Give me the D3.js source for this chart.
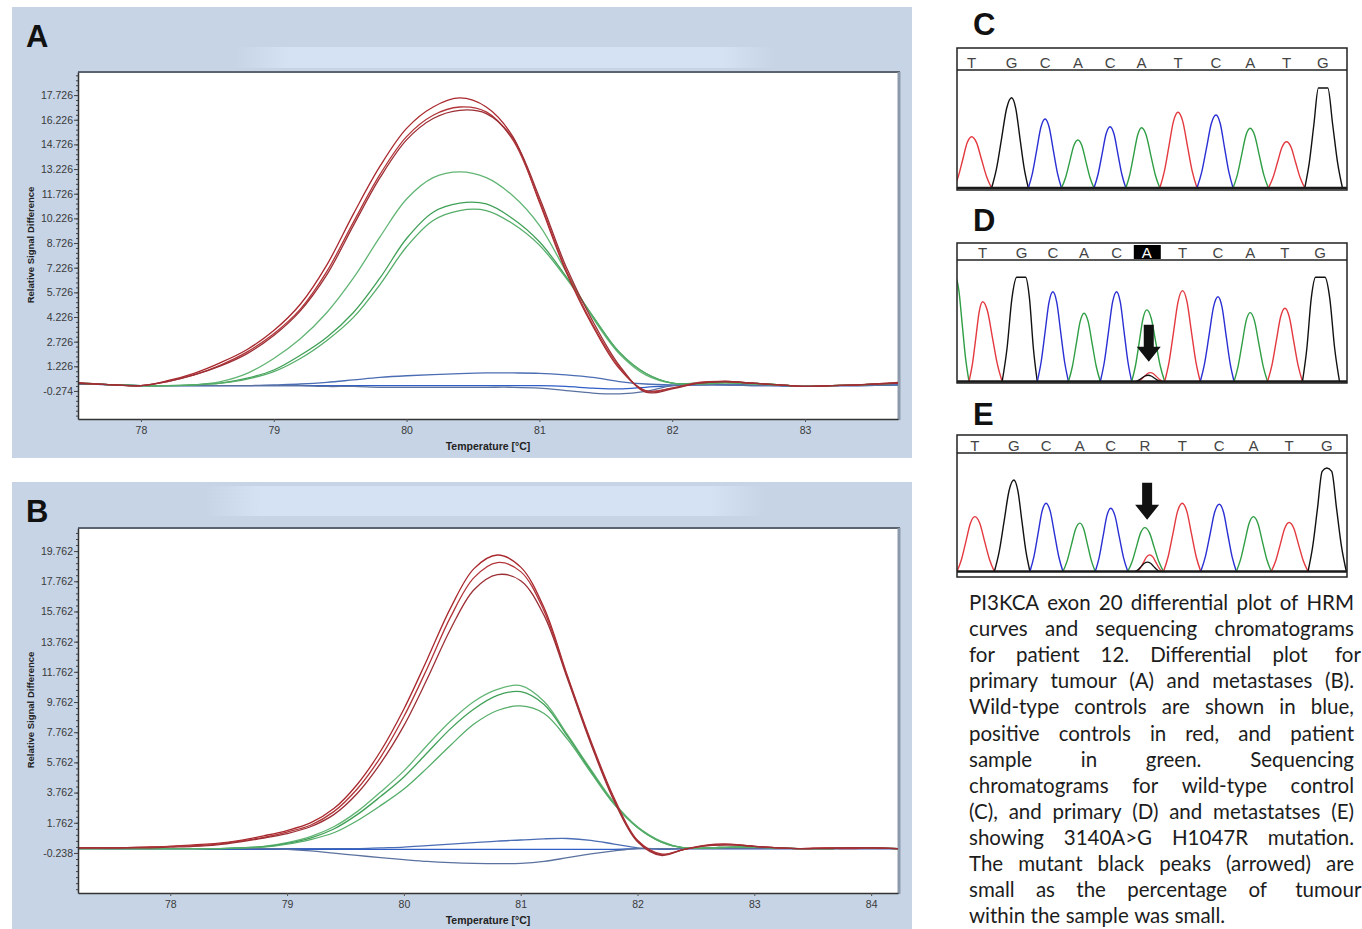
<!DOCTYPE html>
<html lang="en">
<head>
<meta charset="UTF-8">
<title>PI3KCA exon 20 - HRM differential plots and chromatograms</title>
<script src="https://d3js.org/d3.v7.min.js"></script>
<style>
  body { margin: 0; background: #fff; }
  svg { display: block; }
</style>
</head>
<body>
<svg id="fig" width="1362" height="929"></svg>
<script>
// ---------- HRM differential plot, primary tumour (A) ----------
const tempA = [77.5, 77.8, 78.0, 78.2, 78.4, 78.6, 78.8, 79.0, 79.2, 79.4, 79.6, 79.8, 80.0, 80.2, 80.4, 80.6,
  80.8, 81.0, 81.2, 81.4, 81.6, 81.8, 82.0, 82.2, 82.4, 82.6, 82.8, 83.0, 83.2, 83.4, 83.7];
const redA = [
  [0.25, 0.1, 0.05, 0.35, 0.8, 1.45, 2.25, 3.4, 5.0, 7.4, 10.5, 13.4, 15.7, 17.0, 17.55, 17.0, 15.2, 11.2, 7.0, 3.7, 1.1, -0.25, -0.1, 0.2, 0.3, 0.2, 0.1, 0.0, 0.05, 0.1, 0.25],
  [0.2, 0.1, 0.05, 0.3, 0.7, 1.3, 2.1, 3.2, 4.7, 7.0, 10.0, 12.9, 15.2, 16.5, 17.0, 16.7, 15.0, 11.3, 7.1, 3.8, 1.2, -0.3, -0.1, 0.25, 0.3, 0.2, 0.1, 0.0, 0.05, 0.1, 0.2],
  [0.2, 0.1, 0.05, 0.3, 0.7, 1.25, 2.0, 3.1, 4.6, 6.8, 9.8, 12.7, 15.0, 16.3, 16.8, 16.6, 15.1, 11.5, 7.3, 4.0, 1.3, -0.35, -0.15, 0.2, 0.3, 0.2, 0.1, 0.0, 0.05, 0.1, 0.2]
];
const greenA = [
  [0.25, 0.1, 0.05, 0.05, 0.1, 0.3, 0.8, 1.7, 2.9, 4.5, 6.6, 9.1, 11.4, 12.7, 13.05, 12.7, 11.6, 9.8, 7.0, 4.2, 2.0, 0.7, 0.2, 0.2, 0.25, 0.2, 0.1, 0.0, 0.05, 0.1, 0.2],
  [0.2, 0.1, 0.05, 0.05, 0.1, 0.2, 0.5, 1.0, 1.9, 3.0, 4.5, 6.6, 9.0, 10.6, 11.15, 11.1, 10.2, 8.8, 6.7, 4.3, 2.1, 0.8, 0.2, 0.2, 0.25, 0.2, 0.1, 0.0, 0.05, 0.1, 0.2],
  [0.2, 0.1, 0.05, 0.05, 0.1, 0.2, 0.45, 0.9, 1.7, 2.8, 4.2, 6.2, 8.5, 10.1, 10.7, 10.7, 9.9, 8.6, 6.6, 4.3, 2.1, 0.8, 0.2, 0.15, 0.2, 0.15, 0.1, 0.0, 0.05, 0.1, 0.2]
];
const blueA = [
  [0.2, 0.1, 0.05, 0.05, 0.05, 0.05, 0.05, 0.1, 0.15, 0.25, 0.4, 0.55, 0.65, 0.72, 0.78, 0.82, 0.82, 0.8, 0.7, 0.55, 0.3, 0.15, 0.1, 0.1, 0.1, 0.1, 0.05, 0.0, 0.05, 0.05, 0.1],
  [0.15, 0.1, 0.05, 0.05, 0.05, 0.05, 0.05, 0.05, 0.05, 0.05, 0.05, 0.05, 0.05, 0.05, 0.05, 0.05, 0.05, 0.05, 0.0, -0.1, -0.15, -0.05, 0.05, 0.1, 0.1, 0.05, 0.05, 0.0, 0.05, 0.05, 0.1],
  [0.15, 0.1, 0.05, 0.05, 0.05, 0.05, 0.05, 0.05, 0.05, 0.0, 0.0, -0.05, -0.05, -0.05, -0.05, -0.05, -0.05, -0.1, -0.25, -0.4, -0.45, -0.3, 0.05, 0.1, 0.1, 0.05, 0.05, 0.0, 0.05, 0.05, 0.1]
];
const xTicksA = [78, 79, 80, 81, 82, 83];
const yTicksA = [-0.274, 1.226, 2.726, 4.226, 5.726, 7.226, 8.726, 10.226, 11.726, 13.226, 14.726, 16.226, 17.726];

// ---------- HRM differential plot, metastases (B) ----------
const tempB = [77.2, 77.5, 77.8, 78.0, 78.2, 78.4, 78.6, 78.8, 79.0, 79.2, 79.4, 79.6, 79.8, 80.0, 80.2, 80.4, 80.6,
  80.8, 81.0, 81.2, 81.4, 81.6, 81.8, 82.0, 82.2, 82.4, 82.6, 82.8, 83.0, 83.2, 83.4, 83.6, 83.8, 84.0, 84.25];
const redB = [
  [0.1, 0.1, 0.15, 0.2, 0.3, 0.4, 0.6, 0.9, 1.25, 1.75, 2.7, 4.3, 6.5, 9.3, 12.6, 16.0, 18.6, 19.5, 18.7, 16.0, 11.5, 7.2, 3.4, 0.6, -0.3, 0.0, 0.3, 0.35, 0.2, 0.1, 0.05, 0.1, 0.1, 0.1, 0.05],
  [0.1, 0.1, 0.15, 0.2, 0.25, 0.35, 0.55, 0.8, 1.15, 1.6, 2.5, 4.0, 6.1, 8.8, 12.0, 15.4, 18.0, 19.0, 18.4, 15.8, 11.4, 7.1, 3.3, 0.55, -0.35, 0.0, 0.25, 0.3, 0.2, 0.1, 0.05, 0.1, 0.05, 0.1, 0.05],
  [0.1, 0.1, 0.1, 0.15, 0.2, 0.3, 0.5, 0.75, 1.05, 1.5, 2.3, 3.7, 5.7, 8.2, 11.3, 14.6, 17.2, 18.2, 17.8, 15.5, 11.3, 7.0, 3.2, 0.5, -0.4, 0.0, 0.25, 0.3, 0.2, 0.1, 0.05, 0.05, 0.1, 0.1, 0.05]
];
const greenB = [
  [0.05, 0.05, 0.05, 0.05, 0.05, 0.05, 0.1, 0.2, 0.45, 0.85, 1.5, 2.5, 3.8, 5.2, 6.9, 8.5, 9.8, 10.6, 10.85, 9.8, 7.6, 5.3, 3.1, 1.5, 0.55, 0.1, 0.1, 0.15, 0.15, 0.1, 0.05, 0.05, 0.1, 0.1, 0.05],
  [0.05, 0.05, 0.05, 0.05, 0.05, 0.05, 0.1, 0.18, 0.4, 0.75, 1.35, 2.3, 3.5, 4.8, 6.4, 8.0, 9.3, 10.2, 10.45, 9.6, 7.5, 5.2, 3.0, 1.45, 0.5, 0.1, 0.1, 0.15, 0.15, 0.1, 0.05, 0.05, 0.1, 0.1, 0.05],
  [0.05, 0.05, 0.05, 0.05, 0.05, 0.05, 0.1, 0.15, 0.35, 0.65, 1.1, 1.9, 2.9, 4.0, 5.4, 6.9, 8.3, 9.2, 9.5, 9.0, 7.3, 5.1, 3.0, 1.45, 0.5, 0.1, 0.1, 0.15, 0.15, 0.1, 0.05, 0.05, 0.1, 0.1, 0.05]
];
const blueB = [
  [0.05, 0.05, 0.05, 0.05, 0.05, 0.05, 0.05, 0.05, 0.05, 0.05, 0.05, 0.05, 0.1, 0.15, 0.25, 0.35, 0.45, 0.55, 0.62, 0.7, 0.72, 0.6, 0.35, 0.1, 0.0, 0.05, 0.05, 0.05, 0.05, 0.05, 0.05, 0.05, 0.05, 0.05, 0.05],
  [0.1, 0.05, 0.05, 0.05, 0.05, 0.0, 0.0, 0.0, 0.0, 0.0, 0.0, 0.0, 0.0, 0.0, 0.0, 0.0, 0.0, 0.0, 0.0, 0.0, 0.0, 0.0, 0.0, 0.05, 0.05, 0.05, 0.05, 0.05, 0.05, 0.05, 0.05, 0.05, 0.05, 0.05, 0.05],
  [0.05, 0.05, 0.05, 0.05, 0.05, 0.05, 0.05, 0.05, 0.0, -0.1, -0.25, -0.4, -0.55, -0.68, -0.8, -0.88, -0.93, -0.95, -0.93, -0.8, -0.55, -0.3, -0.1, 0.05, 0.05, 0.05, 0.05, 0.05, 0.05, 0.05, 0.05, 0.05, 0.05, 0.05, 0.05]
];
const xTicksB = [78, 79, 80, 81, 82, 83, 84];
const yTicksB = [-0.238, 1.762, 3.762, 5.762, 7.762, 9.762, 11.762, 13.762, 15.762, 17.762, 19.762];

// ---------- sequencing chromatograms (scan position, signal height) ----------
// wild-type control (C)
const basesC = ["T", "G", "C", "A", "C", "A", "T", "C", "A", "T", "G"];
const callsC = ["T", "G", "C", "A", "C", "A", "T", "C", "A", "T", "G"];
const posC = [0.45, 1.68, 2.71, 3.72, 4.71, 5.68, 6.80, 7.97, 9.02, 10.14, 11.26];
const htC = [513, 903, 690, 480, 613, 603, 757, 730, 597, 463, 1150];
// primary tumour (D) - first peak is cut off by the frame
const basesD = ["A", "T", "G", "C", "A", "C", "A", "T", "C", "A", "T", "G"];
const callsD = ["", "T", "G", "C", "A", "C", "A", "T", "C", "A", "T", "G"];
const posD = [-0.05, 0.79, 1.99, 2.95, 3.91, 4.91, 5.84, 6.94, 8.03, 9.02, 10.09, 11.17];
const htD = [1000, 766, 1450, 862, 655, 862, 687, 872, 814, 661, 703, 1450];
const mutBasesD = ["T", "G"];
const mutPosD = [5.95, 5.88];
const mutHtD = [85, 60];
// metastases (E)
const basesE = ["T", "G", "C", "A", "C", "A", "T", "C", "A", "T", "G"];
const callsE = ["T", "G", "C", "A", "C", "R", "T", "C", "A", "T", "G"];
const posE = [0.55, 1.75, 2.74, 3.78, 4.73, 5.78, 6.93, 8.07, 9.12, 10.22, 11.38];
const htE = [530, 884, 660, 467, 611, 424, 660, 650, 530, 473, 1100];
const mutBasesE = ["T", "G"];
const mutPosE = [5.93, 5.86];
const mutHtE = [161, 90];

const captionLines = [
  "PI3KCA exon 20 differential plot of HRM",
  "curves and sequencing chromatograms",
  "for patient 12. Differential plot for",
  "primary tumour (A) and metastases (B).",
  "Wild-type controls are shown in blue,",
  "positive controls in red, and patient",
  "sample in green. Sequencing",
  "chromatograms for wild-type control",
  "(C), and primary (D) and metastatses (E)",
  "showing 3140A>G H1047R mutation.",
  "The mutant black peaks (arrowed) are",
  "small as the percentage of tumour",
  "within the sample was small."
];

const svg = d3.select("#fig");
const defs = svg.append("defs");

const redColors = ["#a8282d", "#b23539", "#9c2f35"];
const greenColors = ["#62b575", "#40a057", "#55ad69"];
const blueColors = ["#4b6db3", "#2f5ec6", "#5b72a0"];
const baseColor = { A: "#2f9e44", C: "#2a2fd4", G: "#111111", T: "#e3393f" };

// ---------- HRM panels ----------
function hrmPanel(cfg) {
  const g = svg.append("g");
  const [bx, by, bw, bh] = cfg.box;
  const [px, py, pw, ph] = cfg.plot;

  // the software window background
  g.append("rect").attr("x", bx).attr("y", by).attr("width", bw).attr("height", bh).attr("fill", "#c6d4e6");
  g.append("rect").attr("x", cfg.band[0]).attr("y", cfg.band[1]).attr("width", cfg.band[2]).attr("height", cfg.band[3])
    .attr("fill", "url(#bandGrad)");

  g.append("text").attr("x", bx + 14).attr("y", by + 40)
    .attr("font-family", "Liberation Sans, Arial, sans-serif").attr("font-weight", "bold").attr("font-size", 31)
    .attr("fill", "#111").text(cfg.label);

  const x = d3.scaleLinear().domain(cfg.xDomain).range([px, px + pw]);
  const y = d3.scaleLinear().domain(cfg.yDomain).range([py + ph, py]);

  // white plotting area with inset frame
  g.append("rect").attr("x", px).attr("y", py).attr("width", pw).attr("height", ph).attr("fill", "#fff");
  g.append("line").attr("x1", px).attr("x2", px + pw + 2).attr("y1", py).attr("y2", py)
    .attr("stroke", "#5c6470").attr("stroke-width", 2);
  g.append("line").attr("x1", px + pw + 1).attr("x2", px + pw + 1).attr("y1", py).attr("y2", py + ph + 1)
    .attr("stroke", "#8c9aac").attr("stroke-width", 3);

  const clipId = "clip" + cfg.label;
  defs.append("clipPath").attr("id", clipId).append("rect")
    .attr("x", px).attr("y", py).attr("width", pw).attr("height", ph);

  const line = d3.line()
    .x((d, i) => x(cfg.temps[i]))
    .y(d => y(d))
    .curve(d3.curveCatmullRom.alpha(0.5));

  const curves = g.append("g").attr("clip-path", `url(#${clipId})`).attr("fill", "none");
  const groups = [[cfg.blues, blueColors], [cfg.greens, greenColors], [cfg.reds, redColors]];
  groups.forEach(([series, colors]) => {
    series.forEach((s, i) => {
      curves.append("path").attr("d", line(s)).attr("stroke", colors[i]).attr("stroke-width", 1.3);
    });
  });

  // axes
  const tickFont = "Liberation Sans, Arial, sans-serif";
  const yMinor = d3.range(cfg.yTicks[0] - 3 * cfg.yStep, cfg.yDomain[1], cfg.yStep / 5)
    .filter(v => v > cfg.yDomain[0] && v < cfg.yDomain[1]);
  g.append("g").attr("transform", `translate(${px},0)`)
    .call(d3.axisLeft(y).tickValues(yMinor).tickSize(2).tickFormat(""))
    .call(a => a.select(".domain").remove())
    .selectAll("line").attr("stroke", "#444");
  const yAxis = g.append("g").attr("transform", `translate(${px},0)`)
    .call(d3.axisLeft(y).tickValues(cfg.yTicks).tickSize(4).tickSizeOuter(0).tickFormat(d => d.toFixed(3)));
  yAxis.select(".domain").attr("stroke", "#333").attr("stroke-width", 1.5);
  yAxis.selectAll("line").attr("stroke", "#444");
  yAxis.selectAll("text").attr("font-family", tickFont).attr("font-size", 10.5).attr("fill", "#3a3a3a").attr("x", -5);

  const xAxis = g.append("g").attr("transform", `translate(0,${py + ph})`)
    .call(d3.axisBottom(x).tickValues(cfg.xTicks).tickSize(3).tickSizeOuter(0).tickFormat(d3.format("d")));
  xAxis.select(".domain").attr("stroke", "#333").attr("stroke-width", 1.5);
  xAxis.selectAll("line").attr("stroke", "#555");
  xAxis.selectAll("text").attr("font-family", tickFont).attr("font-size", 10.5).attr("fill", "#3a3a3a").attr("dy", "0.9em");

  g.append("text").attr("x", px + pw / 2).attr("y", py + ph + 31).attr("text-anchor", "middle")
    .attr("font-family", tickFont).attr("font-weight", "bold").attr("font-size", 10.5).attr("fill", "#222")
    .text("Temperature [°C]");
  g.append("text").attr("transform", `translate(${bx + 22},${cfg.yLabelY}) rotate(-90)`).attr("text-anchor", "middle")
    .attr("font-family", tickFont).attr("font-weight", "bold").attr("font-size", 9.5).attr("fill", "#222")
    .text("Relative Signal Difference");
}

const bandGrad = defs.append("linearGradient").attr("id", "bandGrad");
bandGrad.append("stop").attr("offset", "0%").attr("stop-color", "#d4e2f4").attr("stop-opacity", 0);
bandGrad.append("stop").attr("offset", "10%").attr("stop-color", "#d4e2f4").attr("stop-opacity", 1);
bandGrad.append("stop").attr("offset", "90%").attr("stop-color", "#d4e2f4").attr("stop-opacity", 1);
bandGrad.append("stop").attr("offset", "100%").attr("stop-color", "#d4e2f4").attr("stop-opacity", 0);

hrmPanel({
  label: "A", box: [12, 7, 900, 451], band: [235, 47, 540, 21], plot: [78, 72, 820, 347],
  xDomain: [77.526, 83.70], yDomain: [-1.98, 19.13], yStep: 1.5, yLabelY: 245,
  xTicks: xTicksA, yTicks: yTicksA, temps: tempA, reds: redA, greens: greenA, blues: blueA
});
hrmPanel({
  label: "B", box: [12, 482, 900, 447], band: [205, 486, 560, 30], plot: [78, 528, 820, 365],
  xDomain: [77.21, 84.23], yDomain: [-2.89, 21.29], yStep: 2, yLabelY: 710,
  xTicks: xTicksB, yTicks: yTicksB, temps: tempB, reds: redB, greens: greenB, blues: blueB
});

// ---------- chromatograms ----------
// peak outline template: offsets from the peak centre (fraction of half width) and relative height
const shapeT = [-1, -0.75, -0.5, -0.25, 0, 0.25, 0.5, 0.75, 1];
const shapeH = [0, 0.22, 0.55, 0.88, 1, 0.88, 0.55, 0.22, 0];

function chromPanel(cfg) {
  const g = svg.append("g");
  const x = d3.scaleLinear().domain([0, 12]).range([957, 1347]);
  const y = d3.scaleLinear().domain([0, 1000]).range([cfg.base, cfg.top]).clamp(true);
  const peakLine = d3.line().x(d => x(d[0])).y(d => y(d[1])).curve(d3.curveMonotoneX);

  g.append("text").attr("x", 973).attr("y", cfg.labelY)
    .attr("font-family", "Liberation Sans, Arial, sans-serif").attr("font-weight", "bold").attr("font-size", 31)
    .attr("fill", "#111").text(cfg.label);

  const clipId = "clip" + cfg.label;
  defs.append("clipPath").attr("id", clipId).append("rect")
    .attr("x", 957).attr("y", cfg.header).attr("width", 390).attr("height", cfg.bottom - cfg.header);

  const traces = g.append("g").attr("clip-path", `url(#${clipId})`).attr("fill", "none");
  const n = cfg.pos.length;
  cfg.pos.forEach((p, i) => {
    const lf = i > 0 ? (cfg.pos[i - 1] + p) / 2 : p - 0.55;
    const rf = i < n - 1 ? (p + cfg.pos[i + 1]) / 2 : p + 0.6;
    const pts = shapeT.map((t, k) => [t < 0 ? p + t * (p - lf) : p + t * (rf - p), shapeH[k] * cfg.ht[i]]);
    traces.append("path").attr("d", peakLine(pts)).attr("stroke", baseColor[cfg.bases[i]]).attr("stroke-width", 1.4);
  });
  // small mutant peaks
  (cfg.mutPos || []).forEach((p, i) => {
    const pts = shapeT.map((t, k) => [p + t * 0.38, shapeH[k] * cfg.mutHt[i]]);
    traces.append("path").attr("d", peakLine(pts)).attr("stroke", baseColor[cfg.mutBases[i]]).attr("stroke-width", 1.3);
  });

  // baseline and frame
  g.append("line").attr("x1", 957).attr("x2", 1347).attr("y1", cfg.base).attr("y2", cfg.base)
    .attr("stroke", "#1a1a1a").attr("stroke-width", 2.5);
  g.append("rect").attr("x", 957).attr("y", cfg.boxTop).attr("width", 390).attr("height", cfg.bottom - cfg.boxTop)
    .attr("fill", "none").attr("stroke", "#222").attr("stroke-width", 1.5);
  g.append("line").attr("x1", 957).attr("x2", 1347).attr("y1", cfg.header).attr("y2", cfg.header)
    .attr("stroke", "#222").attr("stroke-width", 1.5);

  // base calls
  cfg.pos.forEach((p, i) => {
    const call = cfg.calls[i];
    if (!call) return;
    const hl = cfg.highlight === i;
    if (hl) {
      g.append("rect").attr("x", x(p) - 13).attr("y", cfg.boxTop + 2).attr("width", 27).attr("height", cfg.header - cfg.boxTop - 3)
        .attr("fill", "#000");
    }
    g.append("text").attr("x", x(p)).attr("y", cfg.header - 2).attr("text-anchor", "middle")
      .attr("font-family", "Liberation Sans, Arial, sans-serif").attr("font-size", 15)
      .attr("fill", hl ? "#fff" : "#444").text(call);
  });

  // arrow at the mutant site
  if (cfg.arrowPos !== undefined) {
    const ax = x(cfg.arrowPos), tip = y(cfg.arrowTip);
    const arrow = d3.path();
    arrow.moveTo(ax - 5, tip - 37);
    arrow.lineTo(ax + 5, tip - 37);
    arrow.lineTo(ax + 5, tip - 15);
    arrow.lineTo(ax + 12, tip - 15);
    arrow.lineTo(ax, tip);
    arrow.lineTo(ax - 12, tip - 15);
    arrow.lineTo(ax - 5, tip - 15);
    arrow.closePath();
    g.append("path").attr("d", arrow.toString()).attr("fill", "#111");
  }
}

chromPanel({ label: "C", labelY: 35, boxTop: 48, header: 70, base: 188, top: 88, bottom: 190,
  bases: basesC, calls: callsC, pos: posC, ht: htC });
chromPanel({ label: "D", labelY: 231, boxTop: 243, header: 260, base: 381.5, top: 277.3, bottom: 383,
  bases: basesD, calls: callsD, pos: posD, ht: htD, highlight: 6,
  mutBases: mutBasesD, mutPos: mutPosD, mutHt: mutHtD, arrowPos: 5.9, arrowTip: 190 });
chromPanel({ label: "E", labelY: 425, boxTop: 435, header: 453, base: 571.5, top: 468, bottom: 577,
  bases: basesE, calls: callsE, pos: posE, ht: htE,
  mutBases: mutBasesE, mutPos: mutPosE, mutHt: mutHtE, arrowPos: 5.85, arrowTip: 500 });

// ---------- caption (justified) ----------
const cap = svg.append("g").attr("font-family", "Lato, 'Open Sans', sans-serif").attr("font-size", 20.5).attr("fill", "#1c1c1c");
captionLines.forEach((line, i) => {
  const words = line.split(" ");
  const t = cap.append("text").attr("y", 610 + i * 26.1);
  const spans = words.map(w => t.append("tspan").text(w));
  const widths = spans.map(s => s.node().getComputedTextLength());
  const last = i === captionLines.length - 1;
  const gap = last ? 5.5 : Math.max(4, (385 - d3.sum(widths)) / (words.length - 1));
  let xx = 969;
  spans.forEach((s, k) => { s.attr("x", xx); xx += widths[k] + gap; });
});
</script>
</body>
</html>
